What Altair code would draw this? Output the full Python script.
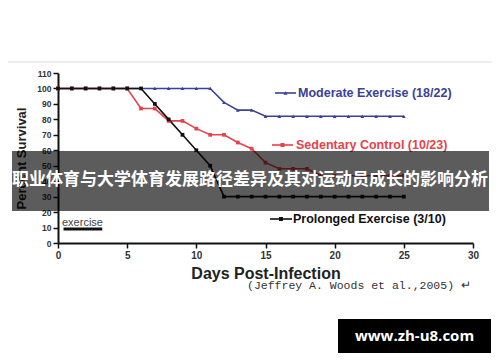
import altair as alt
import pandas as pd

days = list(range(26))
moderate = [100, 100, 100, 100, 100, 100, 100, 100, 100, 100, 100, 100,
            91, 86, 86, 82, 82, 82, 82, 82, 82, 82, 82, 82, 82, 82]
sedentary = [100, 100, 100, 100, 100, 100, 87, 87, 79, 79, 74, 70, 70,
             65, 61, 52, 48, 48, 48, 43.5, 43.5, 43.5, 43.5, 43.5, 43.5, 43.5]
prolonged = [100, 100, 100, 100, 100, 100, 100, 90, 80, 70, 60, 50,
             30, 30, 30, 30, 30, 30, 30, 30, 30, 30, 30, 30, 30, 30]
series_names = ["Moderate Exercise (18/22)", "Sedentary Control (10/23)",
                "Prolonged Exercise (3/10)"]
series_colors = ["#3a4296", "#e4434a", "#111111"]
series_shapes = ["triangle-up", "square", "square"]
exercise_start = [0.4]
exercise_end = [3.2]
exercise_level = [9]
x_ticks = [0, 5, 10, 15, 20, 25, 30]
y_ticks = [0, 10, 20, 30, 40, 50, 60, 70, 80, 90, 100, 110]
banner_text = "职业体育与大学体育发展路径差异及其对运动员成长的影响分析"
watermark = "www.zh-u8.com"
citation = "(Jeffrey A. Woods et al.,2005) ↵"

rows = []
for name, vals in zip(series_names, [moderate, sedentary, prolonged]):
    for d, v in zip(days, vals):
        rows.append({"day": d, "survival": v, "series": name})
df = pd.DataFrame(rows)

xs = alt.Scale(domain=[0, 30], nice=False)
ys = alt.Scale(domain=[0, 110], nice=False)
cs = alt.Scale(domain=series_names, range=series_colors)
ss = alt.Scale(domain=series_names, range=series_shapes)

x_axis = alt.Axis(values=x_ticks, title="Days Post-Infection",
                  labelFontSize=10, titleFontSize=16, titlePadding=5, labelPadding=2,
                  labelFlush=False, labelOverlap=False)
y_axis = alt.Axis(values=y_ticks, title="Percent Survival",
                  labelFontSize=8.5, titleFontSize=13, titlePadding=8, labelPadding=2,
                  labelFlush=False, labelOverlap=False)

base = alt.Chart(df)
lines = base.mark_line(strokeWidth=1.6).encode(
    x=alt.X("day:Q", scale=xs, axis=x_axis),
    y=alt.Y("survival:Q", scale=ys, axis=y_axis),
    color=alt.Color("series:N", scale=cs, legend=None),
    detail="series:N",
)
points = base.mark_point(filled=True, size=14, opacity=1).encode(
    x=alt.X("day:Q", scale=xs, axis=x_axis),
    y=alt.Y("survival:Q", scale=ys, axis=y_axis),
    color=alt.Color("series:N", scale=cs, legend=None),
    shape=alt.Shape("series:N", scale=ss, legend=None),
)

ex_df = pd.DataFrame({"start": exercise_start, "end": exercise_end, "level": exercise_level})
ex_bar = alt.Chart(ex_df).mark_rule(strokeWidth=3, color="#111").encode(
    x=alt.X("start:Q", scale=xs, axis=x_axis), x2="end:Q",
    y=alt.Y("level:Q", scale=ys, axis=y_axis))
ex_text = alt.Chart(pd.DataFrame({"t": ["exercise"]})).mark_text(
    align="left", baseline="middle", fontSize=11, font="Liberation Sans", color="#444"
).encode(x=alt.value(4), y=alt.value(150), text="t:N")

one = pd.DataFrame({"a": [0]})

def legend_item(name, color, shape, ly, lx1, lx2, tx):
    seg = alt.Chart(one).mark_rule(color=color, strokeWidth=1.6).encode(
        x=alt.value(lx1), x2=alt.value(lx2), y=alt.value(ly))
    pt = alt.Chart(one).mark_point(filled=True, size=16, color=color, shape=shape, opacity=1).encode(
        x=alt.value((lx1 + lx2) / 2), y=alt.value(ly))
    tx_ = alt.Chart(pd.DataFrame({"t": [name]})).mark_text(
        align="left", baseline="middle", fontSize=12.5, fontWeight="bold",
        font="Liberation Sans", color=color).encode(
        x=alt.value(tx), y=alt.value(ly), text="t:N")
    return seg + pt + tx_

leg1 = legend_item(series_names[0], series_colors[0], series_shapes[0], 20, 217, 238, 240)
leg2 = legend_item(series_names[1], series_colors[1], series_shapes[1], 72, 214, 235, 238)
leg3 = legend_item(series_names[2], series_colors[2], series_shapes[2], 146, 212, 234, 235)

cite = alt.Chart(pd.DataFrame({"t": [citation]})).mark_text(
    align="left", baseline="middle", fontSize=11.5, font="Liberation Mono", color="#333"
).encode(x=alt.value(189), y=alt.value(213), text="t:N")

top_line = alt.Chart(one).mark_rule(color="#dddddd", strokeWidth=1).encode(
    x=alt.value(-50), x2=alt.value(434), y=alt.value(-11))

band = alt.Chart(one).mark_rect(color="#000000", opacity=0.64).encode(
    x=alt.value(-46), x2=alt.value(431), y=alt.value(78), y2=alt.value(138))
band_text = alt.Chart(pd.DataFrame({"t": [banner_text]})).mark_text(
    align="center", baseline="middle", fontSize=17, fontWeight="bold",
    font="Noto Sans CJK SC", color="white").encode(
    x=alt.value(192), y=alt.value(107), text="t:N")

wm_box = alt.Chart(one).mark_rect(color="#000000").encode(
    x=alt.value(280), x2=alt.value(433), y=alt.value(246), y2=alt.value(280))
wm_text = alt.Chart(pd.DataFrame({"t": [watermark]})).mark_text(
    align="center", baseline="middle", fontSize=15, fontWeight="bold",
    font="Open Sans", color="white").encode(
    x=alt.value(356.5), y=alt.value(263), text="t:N")

chart = alt.layer(
    top_line, lines, points, ex_bar, ex_text, leg1, leg2, leg3, cite,
    band, band_text, wm_box, wm_text
).properties(
    width=415, height=170,
    autosize=alt.AutoSizeParams(type="none"),
    padding={"left": 50, "top": 65, "right": 19, "bottom": 111},
).configure_view(stroke=None).configure_axis(
    grid=False, domainColor="#111", domainWidth=2, tickColor="#111", tickWidth=1.5,
    tickSize=5, labelFont="Liberation Sans", labelFontWeight="bold", labelColor="#333",
    titleFont="Liberation Sans", titleFontWeight="bold", titleColor="#222",
)

chart.save("out.html", embed_options={"renderer": "svg", "actions": False})
